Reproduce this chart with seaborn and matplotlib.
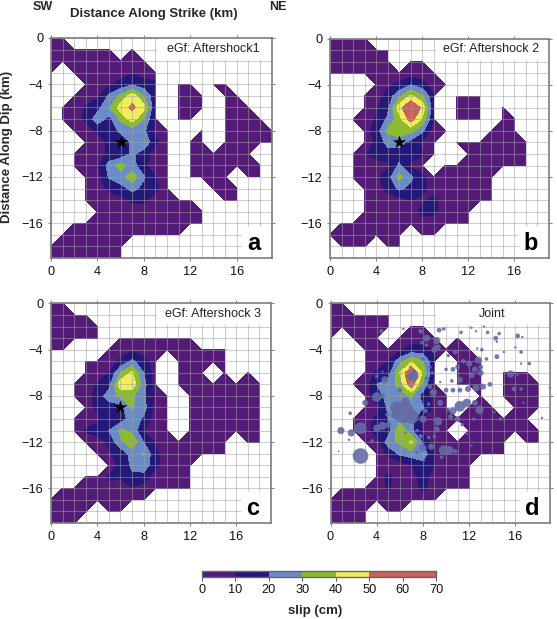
import numpy as np
import seaborn as sns
import matplotlib
matplotlib.use("Agg")
import matplotlib.pyplot as plt
from matplotlib.cm import ScalarMappable
from matplotlib.colors import BoundaryNorm, ListedColormap
from matplotlib.patches import Rectangle

# slip at each grid node, rows are depth 0..19 km, columns strike 0..19 km, 0 = no slip
slip_a = [
    [5, 5, 0, 0, 0, 0, 0, 0, 0, 0, 0, 0, 0, 0, 0, 0, 0, 0, 0, 0],
    [5, 5, 5, 5, 5, 5, 0, 5, 0, 0, 0, 0, 0, 0, 0, 0, 0, 0, 0, 0],
    [5, 5, 5, 5, 5, 5, 5, 5, 5, 0, 0, 0, 0, 0, 0, 0, 0, 0, 0, 0],
    [5, 0, 5, 5, 5, 5, 5, 9, 5, 5, 0, 0, 0, 0, 0, 0, 0, 0, 0, 0],
    [0, 0, 0, 5, 5, 8, 14, 18, 14, 12, 0, 5, 5, 0, 5, 5, 0, 0, 0, 0],
    [0, 0, 5, 5, 8, 22, 32, 46, 30, 12, 0, 5, 5, 5, 0, 5, 5, 0, 0, 0],
    [0, 5, 5, 11, 16, 29, 45, 52, 44, 9, 0, 5, 5, 5, 0, 5, 5, 5, 0, 0],
    [0, 5, 5, 12, 26, 16, 32, 45, 30, 8, 0, 5, 5, 0, 0, 5, 5, 5, 5, 0],
    [0, 0, 5, 5, 12, 15, 22, 25, 22, 8, 5, 0, 0, 5, 0, 5, 5, 5, 5, 5],
    [0, 0, 0, 5, 5, 12, 14, 22, 28, 12, 5, 0, 5, 5, 0, 5, 5, 5, 5, 5],
    [0, 0, 5, 5, 5, 12, 12, 22, 15, 5, 5, 0, 5, 5, 5, 5, 5, 5, 0, 0],
    [0, 0, 5, 5, 8, 24, 34, 24, 12, 5, 5, 0, 5, 5, 5, 5, 5, 5, 5, 0],
    [0, 0, 0, 5, 6, 21, 26, 36, 21, 10, 5, 0, 5, 5, 5, 5, 0, 5, 5, 0],
    [0, 0, 0, 5, 5, 12, 16, 23, 17, 12, 5, 0, 0, 0, 5, 5, 5, 0, 0, 0],
    [0, 0, 0, 5, 5, 5, 6, 12, 12, 5, 5, 5, 5, 0, 0, 5, 5, 0, 0, 0],
    [0, 0, 0, 0, 5, 5, 5, 5, 5, 5, 5, 5, 5, 5, 0, 0, 0, 0, 0, 0],
    [0, 0, 5, 5, 5, 5, 5, 5, 5, 5, 5, 5, 5, 5, 0, 0, 0, 0, 0, 0],
    [0, 5, 5, 5, 5, 5, 5, 5, 5, 5, 5, 5, 0, 0, 0, 0, 0, 0, 0, 0],
    [5, 5, 5, 5, 5, 5, 5, 0, 0, 0, 0, 0, 0, 0, 0, 0, 0, 0, 0, 0],
    [5, 5, 5, 5, 5, 5, 5, 0, 0, 0, 0, 0, 0, 0, 0, 0, 0, 0, 0, 0],
]
slip_b = [
    [5, 5, 5, 5, 0, 0, 0, 0, 0, 0, 0, 0, 0, 0, 0, 0, 0, 0, 0, 0],
    [5, 5, 5, 5, 5, 5, 0, 0, 0, 0, 0, 0, 0, 0, 0, 0, 0, 0, 0, 0],
    [5, 5, 5, 5, 5, 5, 0, 5, 5, 0, 0, 0, 0, 0, 0, 0, 0, 0, 0, 0],
    [5, 5, 5, 5, 5, 5, 5, 5, 5, 5, 0, 0, 0, 0, 0, 0, 0, 0, 0, 0],
    [0, 0, 0, 0, 5, 8, 12, 20, 14, 5, 5, 0, 0, 0, 0, 0, 0, 0, 0, 0],
    [0, 0, 0, 5, 5, 14, 28, 42, 32, 11, 0, 5, 5, 5, 0, 0, 0, 0, 0, 0],
    [0, 0, 0, 5, 8, 17, 46, 62, 48, 11, 0, 5, 5, 5, 0, 5, 0, 0, 0, 0],
    [0, 0, 5, 5, 11, 22, 35, 55, 38, 9, 0, 5, 5, 5, 0, 5, 5, 0, 0, 0],
    [0, 0, 0, 5, 14, 32, 36, 33, 22, 5, 5, 0, 0, 0, 5, 5, 5, 0, 0, 0],
    [0, 0, 0, 5, 11, 24, 24, 16, 8, 5, 0, 5, 5, 5, 5, 5, 5, 5, 0, 0],
    [0, 0, 5, 9, 14, 14, 14, 14, 11, 5, 0, 0, 5, 5, 5, 5, 5, 5, 0, 0],
    [0, 0, 5, 8, 5, 8, 22, 8, 5, 0, 5, 5, 5, 5, 5, 5, 5, 5, 0, 0],
    [0, 0, 5, 5, 8, 15, 33, 22, 12, 5, 5, 5, 5, 5, 5, 0, 0, 0, 0, 0],
    [0, 0, 0, 5, 5, 13, 22, 17, 13, 5, 5, 5, 5, 5, 5, 0, 0, 0, 0, 0],
    [0, 0, 0, 5, 5, 5, 5, 10, 8, 13, 5, 5, 5, 5, 5, 0, 0, 0, 0, 0],
    [0, 0, 0, 5, 5, 5, 5, 5, 13, 12, 5, 5, 5, 0, 0, 0, 0, 0, 0, 0],
    [0, 5, 5, 5, 5, 5, 5, 5, 5, 5, 5, 5, 5, 0, 0, 0, 0, 0, 0, 0],
    [5, 5, 5, 5, 5, 5, 5, 0, 5, 5, 0, 0, 0, 0, 0, 0, 0, 0, 0, 0],
    [0, 5, 5, 5, 0, 5, 5, 0, 0, 0, 0, 0, 0, 0, 0, 0, 0, 0, 0, 0],
    [0, 0, 0, 0, 0, 0, 0, 0, 0, 0, 0, 0, 0, 0, 0, 0, 0, 0, 0, 0],
]
slip_c = [
    [5, 5, 0, 0, 0, 0, 0, 0, 0, 0, 0, 0, 0, 0, 0, 0, 0, 0, 0, 0],
    [5, 5, 5, 5, 0, 0, 0, 0, 0, 0, 0, 0, 0, 0, 0, 0, 0, 0, 0, 0],
    [5, 5, 5, 5, 5, 0, 0, 0, 0, 0, 0, 0, 0, 0, 0, 0, 0, 0, 0, 0],
    [5, 5, 5, 5, 5, 0, 5, 5, 5, 5, 5, 5, 5, 0, 0, 0, 0, 0, 0, 0],
    [5, 5, 0, 0, 0, 5, 5, 8, 5, 5, 5, 5, 5, 5, 5, 5, 0, 0, 0, 0],
    [0, 0, 0, 5, 5, 5, 12, 22, 14, 5, 0, 5, 5, 5, 5, 5, 0, 0, 0, 0],
    [0, 0, 0, 5, 5, 10, 30, 42, 20, 5, 0, 5, 5, 5, 0, 5, 0, 5, 0, 0],
    [0, 0, 5, 5, 11, 16, 46, 47, 24, 5, 0, 5, 5, 5, 5, 5, 5, 5, 5, 0],
    [0, 0, 5, 5, 14, 25, 32, 32, 22, 8, 5, 0, 5, 5, 5, 5, 5, 5, 5, 0],
    [0, 0, 0, 5, 12, 14, 16, 31, 24, 6, 5, 0, 5, 5, 5, 5, 5, 5, 5, 0],
    [0, 0, 5, 5, 8, 18, 14, 26, 18, 5, 5, 0, 5, 5, 5, 5, 5, 5, 5, 0],
    [0, 0, 5, 11, 14, 20, 32, 27, 10, 5, 5, 0, 5, 5, 5, 5, 5, 5, 5, 0],
    [0, 0, 0, 5, 5, 12, 27, 38, 20, 9, 5, 5, 5, 5, 5, 5, 0, 5, 5, 0],
    [0, 0, 0, 0, 5, 9, 13, 24, 31, 12, 5, 5, 5, 5, 5, 5, 0, 0, 0, 0],
    [0, 0, 0, 0, 0, 5, 12, 22, 26, 13, 5, 5, 5, 0, 0, 0, 0, 0, 0, 0],
    [0, 0, 0, 5, 5, 11, 11, 18, 16, 5, 5, 5, 5, 0, 0, 0, 0, 0, 0, 0],
    [0, 5, 5, 5, 5, 8, 5, 9, 5, 5, 5, 5, 5, 0, 0, 0, 0, 0, 0, 0],
    [5, 5, 5, 5, 5, 5, 5, 5, 5, 0, 0, 0, 0, 0, 0, 0, 0, 0, 0, 0],
    [5, 5, 5, 5, 0, 5, 5, 0, 0, 0, 0, 0, 0, 0, 0, 0, 0, 0, 0, 0],
    [5, 5, 5, 0, 0, 0, 0, 0, 0, 0, 0, 0, 0, 0, 0, 0, 0, 0, 0, 0],
]
slip_d = [
    [5, 5, 0, 0, 0, 0, 0, 0, 0, 0, 0, 0, 0, 0, 0, 0, 0, 0, 0, 0],
    [5, 5, 5, 5, 5, 5, 0, 0, 0, 0, 0, 0, 0, 0, 0, 0, 0, 0, 0, 0],
    [5, 5, 5, 5, 5, 5, 0, 5, 5, 0, 0, 0, 0, 0, 0, 0, 0, 0, 0, 0],
    [5, 0, 5, 5, 5, 0, 5, 5, 5, 5, 0, 5, 0, 0, 0, 0, 0, 0, 0, 0],
    [0, 0, 0, 5, 5, 5, 8, 14, 14, 8, 5, 5, 5, 0, 0, 0, 0, 0, 0, 0],
    [0, 0, 0, 5, 5, 10, 26, 38, 30, 11, 0, 5, 5, 5, 0, 0, 0, 0, 0, 0],
    [0, 0, 0, 5, 11, 15, 40, 62, 38, 8, 0, 5, 5, 5, 0, 5, 5, 5, 0, 0],
    [0, 0, 5, 5, 20, 24, 34, 58, 28, 6, 0, 5, 5, 5, 0, 5, 5, 5, 5, 0],
    [0, 0, 0, 5, 15, 24, 26, 31, 15, 5, 5, 0, 0, 5, 0, 5, 5, 5, 5, 0],
    [0, 0, 0, 5, 8, 22, 28, 28, 21, 8, 5, 0, 5, 5, 5, 0, 5, 5, 5, 0],
    [0, 0, 5, 5, 12, 20, 28, 24, 8, 5, 5, 5, 5, 5, 5, 5, 5, 5, 0, 0],
    [0, 0, 5, 5, 15, 14, 38, 22, 8, 5, 5, 0, 5, 5, 5, 5, 5, 5, 5, 0],
    [0, 0, 0, 5, 5, 26, 32, 42, 18, 5, 5, 5, 5, 5, 5, 5, 0, 5, 5, 0],
    [0, 0, 0, 0, 5, 11, 22, 25, 26, 10, 5, 5, 5, 5, 5, 5, 0, 0, 0, 0],
    [0, 0, 0, 0, 5, 5, 5, 10, 16, 10, 5, 5, 5, 0, 0, 0, 0, 0, 0, 0],
    [0, 0, 0, 0, 5, 12, 5, 6, 14, 5, 5, 5, 5, 0, 0, 0, 0, 0, 0, 0],
    [0, 5, 5, 5, 5, 11, 5, 5, 12, 5, 5, 5, 5, 0, 0, 0, 0, 0, 0, 0],
    [5, 5, 5, 5, 5, 5, 5, 5, 5, 5, 0, 0, 0, 0, 0, 0, 0, 0, 0, 0],
    [5, 5, 5, 5, 0, 5, 5, 0, 0, 0, 0, 0, 0, 0, 0, 0, 0, 0, 0, 0],
    [5, 5, 5, 5, 0, 0, 0, 0, 0, 0, 0, 0, 0, 0, 0, 0, 0, 0, 0, 0],
]

# aftershocks on panel d: strike km, depth km, diameter in px
aft_x = [2.6, 2.6, 0.9, 1.8, 1.7, 3.0, 4.0, 4.4, 6.3, 7.8, 8.3, 9.2, 9.4, 9.8, 7.9, 9.3, 9.0, 11.3, 12.2, 12.6,
         13.3, 13.6, 14.3, 14.6, 16.2, 16.6, 14.4, 14.4, 16.0, 15.0, 16.5, 16.5, 17.2, 13.1, 12.7, 13.5, 12.8, 12.0, 11.5, 10.8,
         10.2, 11.0, 12.5, 13.0, 15.6, 13.0, 12.2, 10.0, 10.6, 11.2, 10.5, 9.5, 13.8, 13.2, 12.6, 11.9, 11.2, 10.6, 10.0, 16.2,
         15.9, 16.5, 16.7, 19.0, 18.3, 11.2, 10.6, 11.8, 12.5, 12.9, 10.2, 10.4, 11.0, 11.4, 12.4, 9.5, 8.9, 8.5, 8.2, 6.3,
         5.7, 7.0, 6.5, 8.0, 4.5, 4.7, 4.0, 4.5, 5.5, 4.5, 4.0, 5.0, 4.9, 6.0, 7.2, 7.0, 7.2, 6.9, 8.0, 8.6,
         8.3, 8.8, 8.6, 8.3, 9.3, 9.0, 9.2, 8.7, 8.5, 8.0, 7.8, 7.5, 9.8, 10.3, 10.8, 9.6, 7.5, 8.1, 6.5, 3.6,
         1.6, 0.7, 11.8, 12.2, 14.2, 14.7]
aft_d = [13.2, 10.8, 11.0, 11.2, 9.5, 8.6, 8.1, 2.4, 2.2, 2.4, 3.0, 3.2, 2.3, 2.2, 3.4, 3.8, 4.0, 2.5, 2.1, 2.4,
         2.0, 2.5, 3.0, 2.6, 2.8, 2.9, 4.6, 3.3, 3.8, 4.2, 4.2, 5.2, 5.2, 4.0, 3.9, 4.8, 4.9, 5.2, 5.0, 4.2,
         4.5, 5.5, 5.7, 5.5, 6.1, 6.0, 6.2, 5.7, 5.7, 6.6, 6.7, 6.8, 7.0, 7.2, 7.3, 7.4, 7.5, 7.5, 7.5, 6.2,
         7.4, 7.4, 8.6, 7.3, 9.9, 8.9, 9.3, 8.6, 8.6, 9.2, 9.2, 9.8, 10.0, 10.5, 10.0, 8.6, 7.7, 8.7, 9.3, 9.4,
         9.0, 9.8, 8.5, 10.0, 8.0, 6.6, 6.3, 5.9, 9.7, 10.6, 10.8, 10.5, 9.6, 7.5, 6.3, 6.3, 5.9, 5.5, 4.8, 5.5,
         6.5, 6.0, 7.2, 3.6, 10.2, 11.5, 10.9, 12.4, 11.6, 12.5, 11.5, 11.0, 12.7, 12.7, 12.8, 13.3, 12.9, 13.6, 11.2, 11.9,
         11.8, 12.8, 11.3, 12.3, 9.4, 10.0]
aft_size = [13, 10, 6, 6, 3, 5, 8, 3.5, 2, 4, 6, 6, 4, 3, 3, 5, 5, 3, 2, 2,
            2, 3, 4, 3, 4, 2, 4, 2, 2, 2, 3, 2, 3, 3, 2, 3, 6, 5, 4, 4,
            3, 4, 5, 4, 6, 5, 5, 3, 4, 5, 3, 2, 4, 5, 6, 5, 4, 4, 4, 2,
            4, 3, 2, 2, 2, 9, 6, 7, 5, 7, 3, 4, 5, 3, 3, 5, 6, 3, 4, 18,
            10, 12, 7, 6, 4, 6, 3, 2, 5, 7, 6, 5, 3, 4, 8, 7, 4, 2, 3, 3,
            3, 3, 4, 3, 7, 3, 5, 5, 3, 6, 4, 3, 8, 7, 4, 3, 3, 2, 2, 3,
            2, 1.5, 2, 2, 2, 3]

hypo_x = [6]
hypo_y = [-9]
slip_levels = [0.01, 10, 20, 30, 40, 50, 70]
cbar_levels = [0, 10, 20, 30, 40, 50, 70]
cbar_ticks = [0, 10, 20, 30, 40, 50, 60, 70]
slip_colors = ["#541a78", "#23187a", "#6a8cc6", "#8dbb2e", "#f2ee5a", "#c9625c"]
x_ticks = [0, 4, 8, 12, 16]
y_ticks = [0, -4, -8, -12, -16]

W, H = 557, 619
sns.set_style("ticks")
plt.rcParams["font.family"] = ["Liberation Sans", "DejaVu Sans"]

fig = plt.figure(figsize=(W / 100, H / 100), dpi=100)


def box(left, top, right, bottom):
    return [left / W, 1 - bottom / H, (right - left) / W, (bottom - top) / H]


def panel(pos, slip, label, letter, star=True, aftershocks=False):
    ax = fig.add_axes(box(*pos))
    z = np.array(slip, dtype=float)
    z[z == 0] = np.nan
    xs = np.arange(20)
    ys = -np.arange(20)
    ax.contourf(xs, ys, z, levels=slip_levels, colors=slip_colors, zorder=1, corner_mask=True)
    ax.set_xlim(0, 19)
    ax.set_ylim(-19, 0)
    ax.set_xticks(x_ticks)
    ax.set_yticks(y_ticks)
    ax.set_xticks(np.arange(0, 20), minor=True)
    ax.set_yticks(-np.arange(0, 20), minor=True)
    ax.grid(which="both", color="#a0a0a0", lw=0.8, alpha=0.5, zorder=2)
    ax.set_axisbelow(False)
    ax.tick_params(which="major", top=True, right=True, length=2.5, width=0.7, color="#808080",
                   labelsize=9.2, pad=3, labelcolor="#111111")
    ax.tick_params(which="minor", length=0)
    for s in ax.spines.values():
        s.set_color("#7d7d7d")
        s.set_linewidth(1.2)
        s.set_zorder(6)
    # white boxes behind the panel labels
    ax.add_patch(Rectangle((0.482, 0.9), 0.52, 0.1, transform=ax.transAxes, fc="white", ec="none", zorder=3))
    ax.add_patch(Rectangle((0.865, 0), 0.135, 0.14, transform=ax.transAxes, fc="white", ec="none", zorder=3))
    ax.text(0.735, 0.95, label, transform=ax.transAxes, ha="center", va="center", fontsize=9,
            color="#222222", zorder=4)
    ax.text(0.918, 0.068, letter, transform=ax.transAxes, ha="center", va="center", fontsize=17,
            fontweight="bold", color="black", zorder=4)
    if aftershocks:
        areas = (np.array(aft_size) * 0.72 * 1.2) ** 2
        sns.scatterplot(x=aft_x, y=-np.array(aft_d), size=areas, sizes=(areas.min(), areas.max()),
                        color="#666ba6", alpha=0.9, linewidth=0, legend=False, ax=ax, zorder=5, clip_on=False)
    if star:
        sns.scatterplot(x=hypo_x, y=hypo_y, marker="*", s=105, color="black", linewidth=0,
                        legend=False, ax=ax, zorder=5)
    return ax


panel((51, 38, 271.5, 258), slip_a, "eGf: Aftershock1", "a")
panel((330, 38.5, 549, 258), slip_b, "eGf: Aftershock 2", "b")
panel((51, 303.5, 271, 523), slip_c, "eGf: Aftershock 3", "c")
panel((330.5, 303.5, 550, 523), slip_d, "Joint", "d", star=False, aftershocks=True)

# colour bar
cax = fig.add_axes(box(202, 571, 436, 577))
norm = BoundaryNorm(cbar_levels, len(slip_colors))
sm = ScalarMappable(norm=norm, cmap=ListedColormap(slip_colors))
cb = fig.colorbar(sm, cax=cax, orientation="horizontal", spacing="proportional", ticks=cbar_ticks)
cb.ax.minorticks_off()
cb.ax.tick_params(length=3, width=0.7, color="#555555", labelsize=9.2, pad=2, labelcolor="#111111")
cb.outline.set_edgecolor("#666666")
cb.outline.set_linewidth(1)

# outer labels
fig.text(315 / W, 1 - 611 / H, "slip (cm)", ha="center", va="center", fontsize=9.5, fontweight="bold")
fig.text(43 / W, 1 - 7 / H, "SW", ha="center", va="center", fontsize=9, fontweight="bold")
fig.text(278 / W, 1 - 7 / H, "NE", ha="center", va="center", fontsize=9, fontweight="bold")
fig.text(154 / W, 1 - 14 / H, "Distance Along Strike (km)", ha="center", va="center", fontsize=9.5, fontweight="bold")
fig.text(7 / W, 1 - 147 / H, "Distance Along Dip (km)", rotation=90, ha="center", va="center", fontsize=9.5, fontweight="bold")

fig.savefig("out.png", dpi=100)
